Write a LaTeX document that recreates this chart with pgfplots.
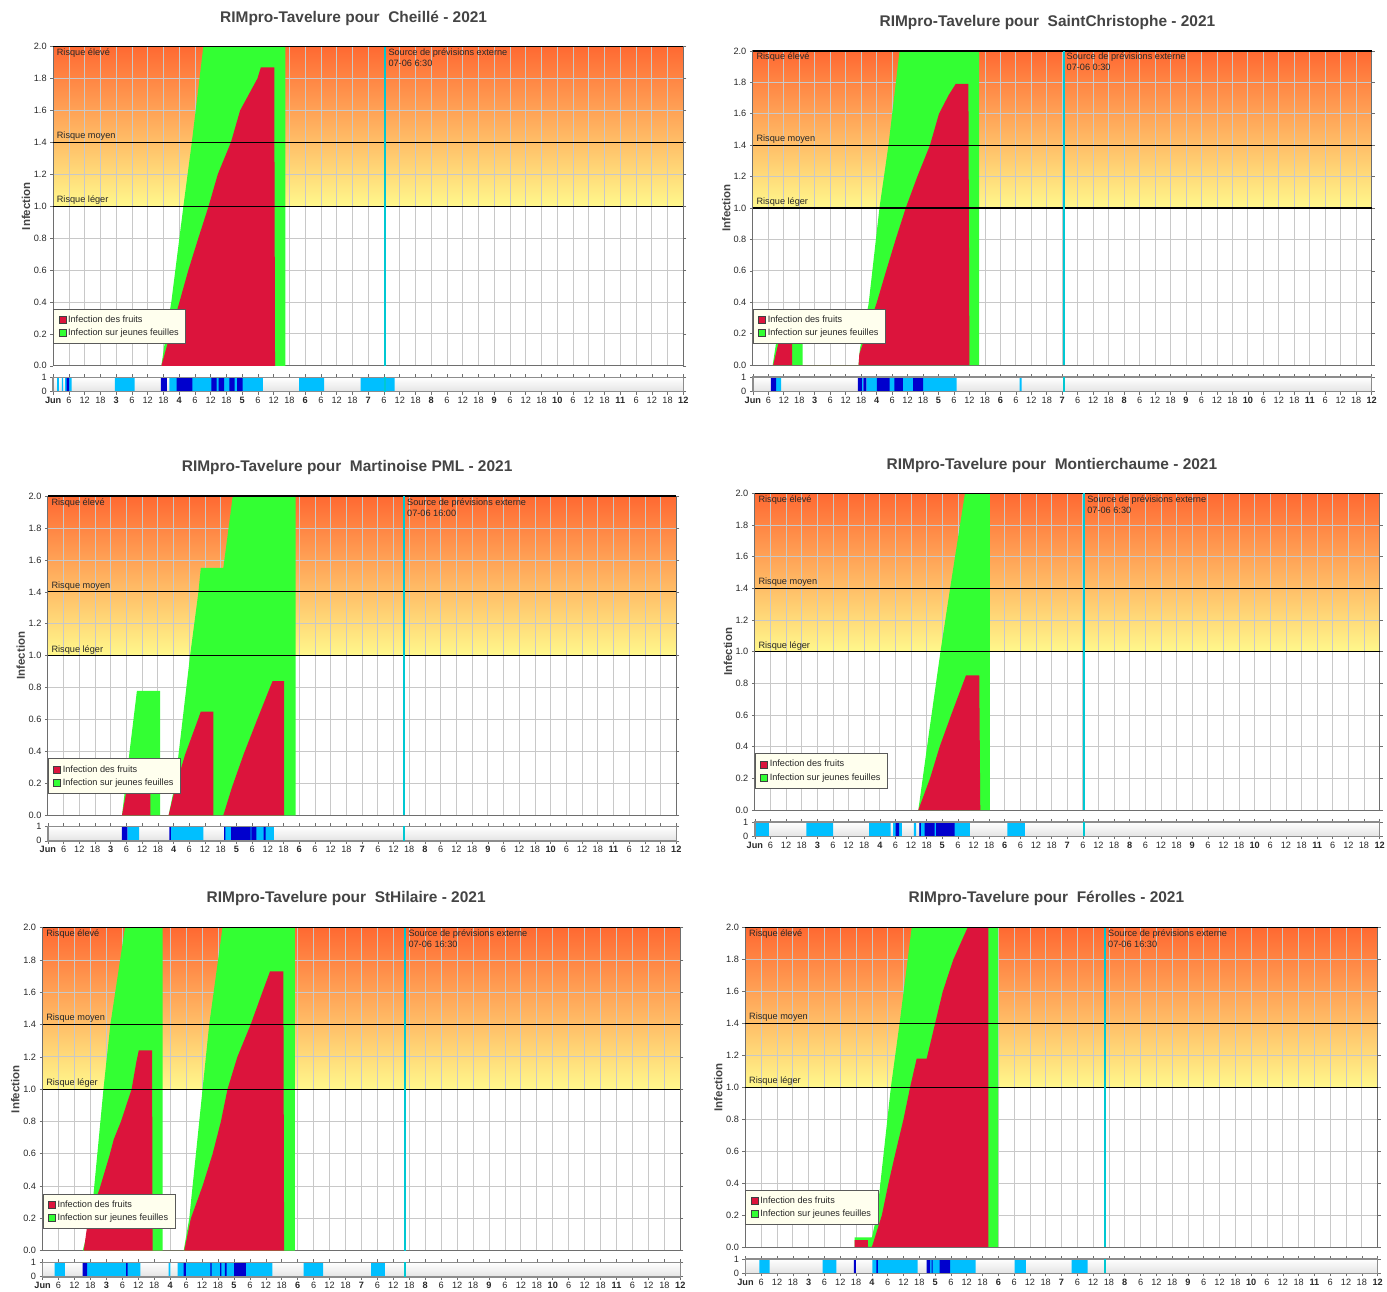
\documentclass[border=0pt]{standalone}
\usepackage{fontspec}
\setmainfont{Liberation Sans}
\usepackage{pgfplots}
\pgfplotsset{compat=1.18}
\definecolor{grc}{RGB}{51,255,51}
\definecolor{rdc}{RGB}{220,20,60}
\definecolor{yelc}{RGB}{255,248,140}
\definecolor{orc}{RGB}{255,105,50}
\definecolor{gridc}{RGB}{200,200,200}
\definecolor{axc}{RGB}{110,110,110}
\definecolor{txtc}{RGB}{40,40,40}
\definecolor{titc}{RGB}{68,68,68}
\definecolor{lbc}{RGB}{0,191,255}
\definecolor{dbc}{RGB}{0,0,205}
\definecolor{cyanc}{RGB}{0,200,210}
\definecolor{legbg}{RGB}{255,255,238}
\definecolor{legc}{RGB}{90,90,90}
\definecolor{stripbg}{RGB}{228,228,228}
\definecolor{stripc}{RGB}{140,140,140}
\newcommand\tk{\fontsize{9.2}{11}\selectfont}
\newcommand\lab{\fontsize{11.5}{13}\selectfont\bfseries}
\newcommand\ttl{\fontsize{15.5}{17}\selectfont\bfseries}
\tikzset{txt/.style={font=\tk, text=txtc, inner sep=0pt}}
\pgfplotsset{
  /pgf/number format/assume math mode=true,
  mainax/.style={
    set layers, scale only axis, anchor=north west, clip=false,
    xmin=0, xmax=240, ymin=0, ymax=2,
    xtick={0,6,...,240}, xticklabel=\empty,
    xtick style={/pgfplots/major tick length=0pt},
    ytick={0,0.2,0.4,0.6,0.8,1,1.2,1.4,1.6,1.8,2},
    yticklabel style={font=\tk, text=txtc, /pgf/number format/fixed, /pgf/number format/fixed zerofill, /pgf/number format/precision=1},
    ytick style={draw=axc, line width=0.6pt},
    major tick length=3pt, tick align=outside,
    grid=major, major grid style={draw=gridc, line width=0.8pt},
    axis line style={draw=axc, line width=0.8pt},
    ylabel={Infection},
    ylabel style={font=\lab, text=titc, at={(axis description cs:-0.043,0.5)}, anchor=center},
    legend style={at={(axis description cs:0,0.068)}, anchor=south west, fill=legbg, draw=legc, line width=0.9pt, font=\tk, text=txtc, inner xsep=5pt, inner ysep=4.5pt, row sep=1pt, cells={anchor=west}},
    legend image code/.code={\draw[##1, draw=black!75, line width=0.5pt] (0pt,-3.5pt) rectangle (7pt,3.5pt);},
    reverse legend,
  },
  stripax/.style={
    set layers, scale only axis, anchor=north west, clip=false,
    xmin=0, xmax=240, ymin=0, ymax=1,
    xtick={0,6,...,240},
    xticklabels={{\textbf{Jun}},6,12,18,{\textbf{3}},6,12,18,{\textbf{4}},6,12,18,{\textbf{5}},6,12,18,{\textbf{6}},6,12,18,{\textbf{7}},6,12,18,{\textbf{8}},6,12,18,{\textbf{9}},6,12,18,{\textbf{10}},6,12,18,{\textbf{11}},6,12,18,{\textbf{12}}},
    ytick={0,1}, tick align=outside, major tick length=3pt,
    tick style={draw=axc, line width=0.6pt},
    ticklabel style={font=\tk, text=txtc},
    xticklabel style={inner sep=2.3pt},
    axis line style={draw=stripc, line width=1.5pt},
  },
}
\newcommand\mainpanel[8]{%
\begin{axis}[mainax, at={(#1pt,-#2pt)}, width=#3pt, height=#4pt]
\addplot[on layer=axis background, draw=none, bottom color=yelc, top color=orc, forget plot] coordinates {(0,1)(240,1)(240,2)(0,2)(0,1)};
\addplot[fill=grc, draw=none] coordinates {#7} \closedcycle;
\addlegendentry{Infection sur jeunes feuilles}
\addplot[fill=rdc, draw=none] coordinates {#8} \closedcycle;
\addlegendentry{Infection des fruits}
\addplot[black, line width=1.1pt, forget plot] coordinates {(0,1)(240,1)};
\addplot[black, line width=1.1pt, forget plot] coordinates {(0,1.4)(240,1.4)};
\addplot[black, line width=1.3pt, forget plot] coordinates {(0,2)(240,2)};
\addplot[cyanc, line width=2pt, forget plot] coordinates {(#5,0)(#5,2)};
\node[txt, anchor=north west, xshift=3.5pt, yshift=-2pt] at (axis cs:0,2) {Risque élevé};
\node[txt, anchor=south west, xshift=3.5pt, yshift=1.5pt] at (axis cs:0,1.4) {Risque moyen};
\node[txt, anchor=south west, xshift=3.5pt, yshift=1.5pt] at (axis cs:0,1) {Risque léger};
\node[txt, anchor=north west, xshift=3pt, yshift=-2pt, align=left] at (axis cs:#5,2) {Source de prévisions externe\\#6};
\end{axis}}
\newcommand\strippanel[7]{%
\begin{axis}[stripax, at={(#1pt,-#2pt)}, width=#3pt, height=#4pt]
\addplot[on layer=axis background, draw=none, top color=white, middle color=white, bottom color=stripbg] coordinates {(0,0)(240,0)(240,1)(0,1)(0,0)};
\addplot[on layer=axis background, const plot, fill=lbc, draw=none] coordinates {#6} \closedcycle;
\addplot[on layer=axis background, const plot, fill=dbc, draw=none] coordinates {#7} \closedcycle;
\addplot[cyanc, line width=2pt] coordinates {(#5,0)(#5,1)};
\end{axis}}
\begin{document}
\begin{tikzpicture}
\path (0pt,0pt) rectangle (1387pt,-1293pt);
% ---- Panel 1: Cheillé
\mainpanel{53.3}{46.7}{631.7}{320}{126.5}{07-06 6:30}
{(41.2,0)(43,0.2)(45,0.4)(47.3,0.7)(49.6,1.0)(52.8,1.4)(57.2,2.0)(88.4,2.0)(88.4,0)}
{(41.2,0)(44.6,0.2)(48.1,0.4)(51.5,0.6)(55.3,0.8)(59.2,1.0)(62.7,1.2)(67.7,1.4)(71.2,1.6)(77.8,1.8)(79.1,1.87)(84.2,1.87)(84.5,0)}
\strippanel{53.3}{378.3}{631.7}{14.4}{126.5}
{(0,0)(1.5,1)(2.2,0)(3.3,1)(3.8,0)(4.6,1)(7.0,0)(23.5,1)(31.0,0)(44.3,1)(79.9,0)(93.7,1)(103.2,0)(117.1,1)(130,0)(240,0)}
{(0,0)(5.1,1)(6.1,0)(41.0,1)(43.3,0)(47.0,1)(53.0,0)(60.3,1)(62.3,0)(63.0,1)(65.1,0)(67.1,1)(69.1,0)(70.1,1)(72.2,0)(240,0)}
% ---- Panel 2: SaintChristophe
\mainpanel{754.7}{51}{620.3}{315}{120.5}{07-06 0:30}
{(7.7,0)(9.0,0.14)(10.5,0.28)(19.3,0.28)(19.3,0)(41.0,0)(41.5,0.1)(44.9,0.39)(49.1,1.0)(52.6,1.4)(56.9,2.0)(87.8,2.0)(87.8,0)}
{(7.9,0)(9.9,0.14)(11.2,0.22)(15.2,0.22)(15.2,0)(41.0,0)(41.3,0.07)(45,0.25)(48.1,0.4)(51.7,0.6)(55.4,0.8)(59.3,1.0)(63.8,1.2)(68.7,1.4)(72.2,1.6)(76,1.72)(78.7,1.79)(83.6,1.79)(84.0,0)}
\strippanel{754.7}{378}{620.3}{14.6}{120.5}
{(0,0)(9,1)(11,0)(42.3,1)(42.9,0)(44,1)(79,0)(103.5,1)(104.2,0)(240,0)}
{(0,0)(7,1)(9,0)(40.7,1)(42.3,0)(42.9,1)(44,0)(48.1,1)(53,0)(54.9,1)(58.2,0)(62.2,1)(66,0)(240,0)}
% ---- Panel 3: Martinoise PML
\mainpanel{48}{497.3}{630}{320}{136}{07-06 16:00}
{(28.3,0)(31.2,0.4)(34.0,0.78)(42.9,0.78)(42.9,0)(46.1,0)(48.6,0.2)(54.3,1.0)(57.5,1.4)(58.4,1.55)(67.0,1.55)(70.6,2.0)(94.6,2.0)(94.6,0)}
{(28.3,0)(30,0.15)(32,0.28)(39.1,0.28)(39.1,0)(46.1,0)(48.6,0.17)(52.4,0.38)(57.1,0.59)(58.4,0.65)(63.2,0.65)(63.2,0)(67.0,0)(70.2,0.17)(74.7,0.38)(79.7,0.59)(84.8,0.8)(85.8,0.84)(90.2,0.84)(90.2,0)}
\strippanel{48}{828.3}{630}{14.6}{136}
{(0,0)(30.4,1)(34.8,0)(47,1)(59.4,0)(67.7,1)(86.3,0)(240,0)}
{(0,0)(28.3,1)(30.4,0)(46.4,1)(47,0)(67.3,1)(67.8,0)(70,1)(77.4,0)(77.7,1)(79.6,0)(82.4,1)(83.2,0)(240,0)}
% ---- Panel 4: Montierchaume
\mainpanel{756.7}{494.7}{626.3}{317.3}{126.5}{07-06 6:30}
{(62.8,0)(67,0.5)(71.3,1.0)(75.0,1.4)(80.7,2.0)(90.3,2.0)(90.3,0)}
{(62.8,0)(67.3,0.2)(71.0,0.4)(75.4,0.6)(81.1,0.85)(86.2,0.85)(86.6,0)}
\strippanel{756.7}{824}{626.3}{14.4}{126.5}
{(0,1)(5.4,0)(19.8,1)(30.1,0)(43.9,1)(52.2,0)(53.1,1)(56.5,0)(61.1,1)(62,0)(63.2,1)(82.6,0)(97,1)(103.7,0)(240,0)}
{(0,0)(54.1,1)(55.4,0)(63.2,1)(63.8,0)(65.2,1)(69.1,0)(69.6,1)(76.7,0)(240,0)}
% ---- Panel 5: StHilaire
\mainpanel{42.7}{930}{639.3}{323.7}{136.5}{07-06 16:30}
{(15.1,0)(18.3,0.2)(22.9,1.0)(25.5,1.4)(31.0,2.0)(45.2,2.0)(45.2,0)(53.1,0)(55.2,0.2)(60.2,1.0)(62.7,1.4)(67.7,2.0)(94.9,2.0)(94.9,0)}
{(15.5,0)(17,0.18)(21.4,0.38)(25.2,0.59)(26.8,0.69)(29.5,0.8)(33.5,1.0)(35.3,1.17)(36.2,1.24)(41.2,1.24)(41.4,0)(53.3,0)(55.8,0.2)(60.2,0.4)(64,0.6)(67.1,0.8)(69.6,1.0)(73.3,1.2)(78.3,1.4)(82.7,1.6)(85.6,1.73)(90.6,1.73)(90.9,0)}
\strippanel{42.7}{1265.5}{639.3}{14.4}{136.5}
{(0,0)(4.5,1)(8.4,0)(16.8,1)(36.8,0)(47.4,1)(48.1,0)(50.8,1)(86.5,0)(98.2,1)(105.6,0)(123.6,1)(128.8,0)(240,0)}
{(0,0)(15.1,1)(16.8,0)(31.4,1)(32.0,0)(53.1,1)(53.9,0)(63.1,1)(63.6,0)(66.8,1)(67.3,0)(68.6,1)(69.3,0)(72.1,1)(76.5,0)(240,0)}
% ---- Panel 6: Férolles
\mainpanel{747.3}{930}{633.7}{320}{136.5}{07-06 16:30}
{(41.4,0)(41.4,0.06)(48.0,0.06)(49.9,0.2)(55.2,1.0)(58.5,1.4)(63.1,2.0)(95.9,2.0)(95.9,0)}
{(41.4,0)(41.4,0.042)(46.5,0.042)(46.5,0)(48.0,0)(51.8,0.2)(54.3,0.4)(57.1,0.6)(60,0.8)(62.5,1.0)(65,1.18)(68.8,1.18)(72,1.4)(74.9,1.6)(78.9,1.8)(84.3,2.0)(92.2,2.0)(92.2,0)}
\strippanel{747.3}{1262}{633.7}{14.4}{136.5}
{(0,0)(5.3,1)(9.2,0)(29.3,1)(34.5,0)(48.2,1)(65.4,0)(70.1,1)(87.4,0)(102.2,1)(106.5,0)(123.8,1)(129.9,0)(240,0)}
{(0,0)(41.2,1)(41.9,0)(49.7,1)(50.3,0)(68.8,1)(70.1,0)(70.7,1)(71.1,0)(73.7,1)(77.7,0)(240,0)}
% ---- Titles
\node[font=\ttl, text=titc] at (354.5pt,-18pt) {RIMpro-Tavelure pour\ \ Cheillé - 2021};
\node[font=\ttl, text=titc] at (1050pt,-23pt) {RIMpro-Tavelure pour\ \ SaintChristophe - 2021};
\node[font=\ttl, text=titc] at (348pt,-469pt) {RIMpro-Tavelure pour\ \ Martinoise PML - 2021};
\node[font=\ttl, text=titc] at (1054.5pt,-467pt) {RIMpro-Tavelure pour\ \ Montierchaume - 2021};
\node[font=\ttl, text=titc] at (347pt,-901pt) {RIMpro-Tavelure pour\ \ StHilaire - 2021};
\node[font=\ttl, text=titc] at (1049pt,-901pt) {RIMpro-Tavelure pour\ \ Férolles - 2021};
\end{tikzpicture}
\end{document}
